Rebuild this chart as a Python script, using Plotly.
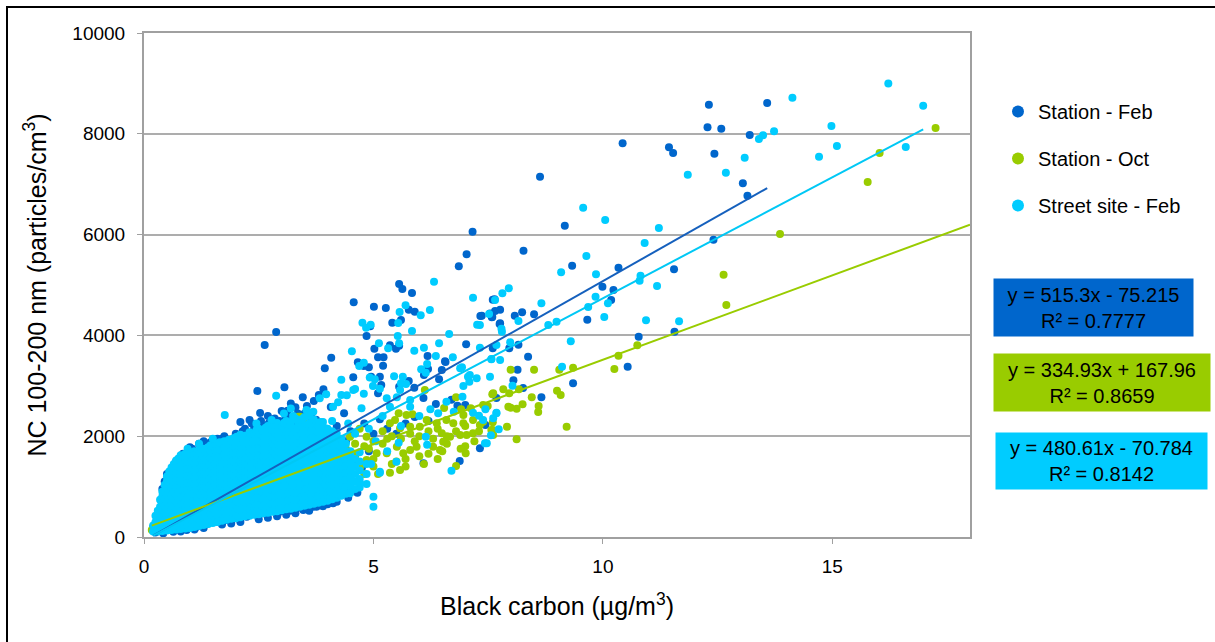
import plotly.graph_objects as go

# ---------------- data ----------------
# Station - Feb (dark blue): scattered points (x = BC ug/m3, y = NC particles/cm3)
station_feb_outliers = [
    (12.31, 8577), (13.58, 8611), (12.28, 8128), (12.58, 8100), (10.43, 7811), (11.44, 7731),
    (11.53, 7619), (13.2, 7976), (12.43, 7605), (8.63, 7149), (13.05, 7017), (13.15, 6772),
    (9.17, 6177), (9.33, 5383), (10.34, 5343), (9.99, 4966), (10.23, 4900), (11.55, 5311),
    (12.41, 5898), (10.18, 4702), (9.66, 4311), (10.78, 3974), (11.56, 4073), (10.54, 3379),
    (9.35, 3049), (8.66, 2772), (8.27, 5680), (7.64, 4716), (7.65, 4484), (7.76, 4510),
    (7.36, 4391), (7.59, 4365), (7.75, 4226), (8.08, 4391), (8.24, 4458), (8.5, 4418),
    (7.6, 3744), (7.96, 3744), (8.16, 3815), (8.37, 3578), (8.14, 3319), (8.05, 3109),
    (8.26, 2956), (7.68, 2758), (7.44, 2222), (7.32, 1760), (7.16, 6057), (7.03, 5609),
    (6.86, 5371), (5.56, 5020), (5.63, 4920), (5.84, 4841), (4.57, 4656), (5.01, 4569),
    (5.27, 4543), (5.77, 4510), (5.9, 4470), (5.41, 4252), (5.6, 4305), (4.93, 4180),
    (4.85, 3987), (5.02, 3736), (5.36, 3803), (5.49, 3736), (5.56, 3796), (5.1, 3565),
    (5.22, 3565), (5.21, 3399), (4.08, 3558), (3.94, 3347), (4.66, 3466), (4.79, 3393),
    (4.9, 3366), (4.95, 3180), (4.56, 3168), (5.14, 3180), (5.17, 3016), (5.1, 2851),
    (5.56, 2982), (5.77, 3095), (5.89, 2962), (6.18, 3591), (6.19, 3333), (6.56, 3486),
    (6.49, 3313), (6.43, 3129), (7.02, 3823), (7.33, 4385), (7.6, 4708), (7.58, 4359),
    (3.46, 2772), (3.81, 2817), (3.91, 2930), (4.07, 2579), (3.65, 2367), (3.75, 2327),
    (6.09, 2758), (6.36, 2639), (6.7, 2724), (6.83, 2605), (7.0, 2619), (6.88, 1508),
    (6.09, 1462), (4.36, 2454), (5.14, 2335), (2.47, 2897), (3.06, 2970), (2.1, 2282),
    (2.3, 2321), (2.53, 2460), (3.3, 2573), (3.13, 2506), (3.09, 2375), (2.72, 2256),
    (2.68, 2182), (2.88, 4067), (2.63, 3809), (7.54, 4437), (7.76, 4240), (6.57, 3472),
    (6.1, 3214),
]
# Station - Feb: dense cluster (edges visible around the street-site cloud)
station_feb_cluster = [
    (0.2, 200), (0.25, 90), (0.28, 272), (0.3, 150), (0.35, 403), (0.42, 73), (0.52, 601),
    (0.55, 800), (0.57, 933), (0.64, 1131), (0.64, 105), (0.75, 1329), (0.86, 1462),
    (0.92, 1554), (0.93, 139), (1.0, 1780), (1.0, 900), (1.11, 1673), (1.15, 204),
    (1.2, 1850), (1.37, 258), (1.4, 1726), (1.5, 1200), (1.57, 1839), (1.58, 304),
    (1.7, 1950), (1.8, 337), (1.86, 1871), (1.91, 1693), (2.0, 2050), (2.0, 1400),
    (2.02, 370), (2.2, 1900), (2.24, 403), (2.26, 1732), (2.4, 2150), (2.46, 436),
    (2.5, 1600), (2.53, 1958), (2.6, 470), (2.75, 2080), (2.89, 2058), (2.96, 502),
    (3.0, 1800), (3.03, 2123), (3.1, 2387), (3.18, 522), (3.3, 2200), (3.33, 569),
    (3.47, 536), (3.5, 2450), (3.5, 1900), (3.54, 569), (3.69, 2321), (3.69, 601),
    (3.76, 601), (3.8, 1300), (4.0, 2100), (4.0, 1500), (4.09, 767), (4.12, 669),
    (4.2, 2200), (4.27, 867), (4.3, 1700), (4.34, 966), (4.4, 1900), (4.5, 2100),
    (4.5, 1200), (4.6, 1450), (4.75, 1380), (4.8, 2250), (4.9, 1700), (5.0, 2050),
    (5.3, 2150), (5.5, 2050), (5.7, 2250), (5.9, 2380), (6.2, 2300), (1.3, 1900),
    (1.75, 2000), (2.15, 2100), (2.6, 2200), (2.95, 2300), (3.4, 2400), (2.35, 1980),
    (2.2, 2150), (2.35, 2250), (2.55, 2300), (2.7, 2400), (2.85, 2350), (3.0, 2500),
    (3.2, 2650), (3.35, 2450), (3.55, 2600), (3.7, 2700), (1.6, 1950), (1.45, 1880),
    (1.25, 1800), (1.05, 1750), (0.85, 1650), (0.7, 1500), (0.5, 1250), (0.45, 1100),
    (0.4, 950), (1.3, 180), (1.7, 250), (2.1, 300), (2.5, 350), (2.9, 410), (3.3, 470),
    (3.6, 520), (3.9, 610), (4.2, 700), (4.45, 780), (4.65, 880), (1.9, 270), (2.7, 380),
    (3.1, 440), (4.0, 650), (1.1, 150), (0.8, 110),
]

# Station - Oct (green)
station_oct_points = [
    (17.25, 8115), (16.03, 7619), (15.77, 7043), (13.86, 6011), (12.63, 5204), (12.69, 4603),
    (10.75, 3803), (10.34, 3597), (10.25, 3333), (9.35, 3359), (9.05, 3319), (8.5, 3319),
    (7.99, 3319), (7.61, 2851), (7.83, 2930), (7.96, 2851), (8.17, 2930), (7.49, 2599),
    (7.94, 2585), (7.99, 2566), (8.12, 2546), (8.25, 2633), (8.45, 2772), (8.6, 2599),
    (8.59, 2480), (9.0, 2903), (9.08, 2817), (7.6, 2276), (7.6, 2123), (7.91, 2189),
    (8.12, 1938), (9.21, 2189), (7.32, 2222), (7.59, 2831), (7.39, 2619), (7.12, 2553),
    (6.91, 2533), (6.8, 2772), (6.96, 2420), (6.12, 2917), (6.54, 2559), (5.55, 2454),
    (5.72, 2420), (5.85, 2434), (5.36, 2256), (5.47, 2321), (5.58, 2157), (5.8, 2189),
    (6.01, 2189), (6.16, 2321), (6.38, 2256), (6.59, 2321), (6.74, 2256), (6.96, 2256),
    (7.17, 2321), (7.39, 2288), (7.57, 2123), (7.61, 2024), (6.49, 2058), (6.67, 1990),
    (6.89, 2024), (7.03, 2024), (7.17, 2058), (6.3, 1792), (6.45, 1726), (6.52, 1891),
    (5.94, 1792), (5.8, 1726), (5.65, 1660), (5.51, 1792), (5.29, 1660), (5.36, 1276),
    (5.58, 1329), (7.01, 1660), (6.8, 1409), (5.07, 1660), (4.85, 1528), (4.71, 1395),
    (4.49, 1494), (4.27, 1528), (4.12, 1660), (3.98, 1792), (3.83, 1924), (3.62, 1792),
    (4.85, 1990), (4.49, 1990), (4.12, 2058), (3.83, 2189), (3.54, 2256), (3.4, 2387),
    (0.17, 139), (0.2, 160), (0.53, 569), (0.89, 669), (1.98, 1196), (3.36, 2387),
    (3.22, 2090), (3.47, 1990), (0.3, 250), (0.4, 450), (0.5, 300), (0.6, 600), (0.7, 450),
    (0.8, 700), (1.0, 500), (1.0, 850), (1.2, 600), (1.4, 750), (1.5, 1000), (1.6, 800),
    (1.8, 900), (2.0, 1000), (2.2, 950), (2.4, 1100), (2.5, 1500), (2.6, 1200), (2.8, 1300),
    (3.0, 1250), (3.0, 1700), (3.2, 1400), (3.4, 1500), (3.5, 1800), (3.6, 1450), (3.8, 1600),
    (4.0, 1400), (4.0, 1200), (4.2, 1700), (4.4, 1750), (4.5, 1300), (4.6, 1650), (4.8, 1800),
    (5.0, 1900), (5.0, 1400), (5.2, 1850), (5.4, 2000), (5.5, 1500), (5.6, 1950), (5.8, 2050),
    (6.0, 2000), (6.0, 1600), (6.2, 2100), (6.4, 2150), (6.5, 1700), (6.6, 2000), (6.8, 2100),
    (7.0, 2200), (7.0, 1800), (4.6, 1850), (4.7, 2150), (5.2, 2100), (5.0, 1550), (5.4, 1450),
    (5.7, 1550), (6.1, 1450), (6.3, 1950), (4.3, 1900), (4.0, 1950), (3.7, 2050), (4.9, 1750),
    (5.9, 1900), (6.2, 1650), (6.6, 1850), (5.3, 1950), (4.6, 1600), (5.1, 1250), (5.7, 1400),
    (6.4, 1550), (7.2, 1900), (7.3, 2100), (4.4, 1400), (4.2, 1250), (4.8, 1250), (6.9, 1750),
]

# Street site - Feb (light blue): scattered points
street_feb_outliers = [
    (16.22, 9000), (16.98, 8558), (14.13, 8716), (14.98, 8154), (15.1, 7757), (14.71, 7546),
    (16.6, 7738), (13.73, 8049), (13.49, 7970), (13.4, 7897), (13.09, 7526), (12.68, 7228),
    (11.85, 7188), (9.57, 6533), (10.05, 6289), (11.22, 6130), (10.91, 5833), (9.64, 5575),
    (9.09, 5252), (9.85, 5212), (10.82, 5185), (10.8, 5086), (11.18, 4980), (8.66, 4636),
    (8.81, 4206), (8.99, 4272), (9.68, 4563), (9.84, 4768), (10.03, 4365), (10.11, 4636),
    (10.94, 4299), (11.66, 4279), (9.3, 3883), (9.11, 3379), (7.95, 4934), (7.81, 4835),
    (7.52, 4424), (8.16, 4285), (7.79, 4133), (7.8, 4073), (7.32, 4206), (7.98, 3863),
    (7.57, 3525), (7.32, 3756), (8.03, 3002), (7.68, 2466), (7.73, 2137), (7.56, 2018),
    (7.47, 1859), (7.39, 2321), (6.32, 5066), (7.17, 4748), (7.65, 4702), (5.7, 4597),
    (5.57, 4464), (6.03, 4398), (6.23, 4504), (4.76, 4252), (4.84, 4153), (4.94, 4212),
    (5.54, 4246), (5.53, 3988), (5.84, 4087), (6.65, 4028), (6.43, 3843), (7.26, 4212),
    (4.53, 3684), (5.12, 3843), (5.32, 3744), (5.56, 3843), (5.89, 3697), (6.1, 3756),
    (6.36, 3591), (6.17, 3432), (6.04, 3327), (6.14, 3260), (4.79, 3458), (4.69, 3393),
    (4.3, 3121), (5.03, 3129), (5.45, 3188), (5.64, 3180), (5.6, 3049), (5.71, 3035),
    (5.58, 2917), (6.73, 3565), (6.93, 3367), (7.1, 3214), (7.09, 3082), (6.96, 2996),
    (7.57, 3532), (7.68, 3809), (4.6, 2936), (4.79, 2843), (4.99, 2996), (5.14, 2942),
    (4.3, 2817), (4.42, 2811), (4.23, 2672), (4.12, 2585), (4.74, 2553), (5.29, 2752),
    (5.51, 2772), (5.36, 2585), (5.8, 2718), (5.8, 2585), (6.24, 2533), (6.41, 2454),
    (6.59, 2684), (6.75, 2486), (7.17, 2466), (7.3, 2407), (7.44, 2533), (7.61, 2355),
    (7.68, 2454), (6.17, 1831), (6.14, 1990), (5.55, 1871), (5.5, 1494), (5.14, 1276),
    (6.7, 1316), (7.43, 1859), (3.83, 2752), (3.97, 2831), (3.54, 2520), (3.69, 2486),
    (3.4, 2321), (4.56, 2917), (4.92, 3164), (1.76, 2420), (2.88, 2804), (2.02, 1990),
    (1.98, 1858), (2.16, 1891), (2.38, 1891), (2.78, 2321), (2.93, 2058), (7.76, 3512),
    (7.54, 3180), (7.25, 3148), (7.06, 3180), (6.89, 3347), (6.94, 2784), (5.0, 800),
    (5.0, 601), (4.71, 1065), (5.14, 1296), (4.49, 867), (3.05, 2450), (3.2, 2550),
    (3.25, 2400), (4.1, 2300), (4.45, 2250), (4.9, 2150), (5.2, 2400), (4.6, 2050),
    (5.05, 1900), (5.3, 1700), (4.95, 1450), (5.6, 2200), (6.0, 2400), (1.2, 1850),
    (1.5, 1950), (2.45, 2250), (3.6, 2400), (0.95, 1750),
]
# Street site - Feb: dense cloud, read column by column (x, list of y)
street_feb_cluster = [
    (0.20, [110, 230]),
    (0.25, [170, 300, 420]),
    (0.30, [110, 240, 380, 520]),
    (0.35, [180, 320, 460, 600, 740]),
    (0.40, [120, 250, 390, 530, 670, 810, 900]),
    (0.45, [190, 330, 470, 610, 750, 890, 1030]),
    (0.50, [130, 270, 410, 550, 690, 830, 970, 1110, 1200]),
    (0.55, [200, 340, 480, 620, 760, 900, 1040, 1180, 1300]),
    (0.60, [140, 280, 420, 560, 700, 840, 980, 1120, 1260, 1380]),
    (0.65, [210, 350, 490, 630, 770, 910, 1050, 1190, 1330, 1450]),
    (0.70, [150, 290, 430, 570, 710, 850, 990, 1130, 1270, 1410, 1520]),
    (0.75, [220, 360, 500, 640, 780, 920, 1060, 1200, 1340, 1480, 1560]),
    (0.80, [160, 300, 440, 580, 720, 860, 1000, 1140, 1280, 1420, 1560, 1620]),
    (0.85, [230, 370, 510, 650, 790, 930, 1070, 1210, 1350, 1490, 1600]),
    (0.90, [170, 310, 450, 590, 730, 870, 1010, 1150, 1290, 1430, 1570, 1650]),
    (0.95, [240, 380, 520, 660, 800, 940, 1080, 1220, 1360, 1500, 1620]),
    (1.00, [180, 320, 460, 600, 740, 880, 1020, 1160, 1300, 1440, 1580, 1680]),
    (1.05, [250, 390, 530, 670, 810, 950, 1090, 1230, 1370, 1510, 1640]),
    (1.10, [200, 340, 480, 620, 760, 900, 1040, 1180, 1320, 1460, 1600, 1700]),
    (1.15, [260, 400, 540, 680, 820, 960, 1100, 1240, 1380, 1520, 1660]),
    (1.20, [220, 360, 500, 640, 780, 920, 1060, 1200, 1340, 1480, 1620, 1720]),
    (1.25, [270, 410, 550, 690, 830, 970, 1110, 1250, 1390, 1530, 1670]),
    (1.30, [240, 380, 520, 660, 800, 940, 1080, 1220, 1360, 1500, 1640, 1750]),
    (1.35, [290, 430, 570, 710, 850, 990, 1130, 1270, 1410, 1550, 1690]),
    (1.40, [260, 400, 540, 680, 820, 960, 1100, 1240, 1380, 1520, 1660, 1780]),
    (1.45, [310, 450, 590, 730, 870, 1010, 1150, 1290, 1430, 1570, 1710, 1820]),
    (1.50, [280, 420, 560, 700, 840, 980, 1120, 1260, 1400, 1540, 1680, 1790]),
    (1.55, [330, 470, 610, 750, 890, 1030, 1170, 1310, 1450, 1590, 1730, 1850]),
    (1.60, [300, 440, 580, 720, 860, 1000, 1140, 1280, 1420, 1560, 1700, 1810]),
    (1.65, [350, 490, 630, 770, 910, 1050, 1190, 1330, 1470, 1610, 1750, 1880]),
    (1.70, [320, 460, 600, 740, 880, 1020, 1160, 1300, 1440, 1580, 1720, 1860]),
    (1.75, [370, 510, 650, 790, 930, 1070, 1210, 1350, 1490, 1630, 1770, 1900]),
    (1.80, [340, 480, 620, 760, 900, 1040, 1180, 1320, 1460, 1600, 1740, 1870]),
    (1.85, [390, 530, 670, 810, 950, 1090, 1230, 1370, 1510, 1650, 1790, 1930]),
    (1.90, [360, 500, 640, 780, 920, 1060, 1200, 1340, 1480, 1620, 1760, 1900]),
    (1.95, [400, 540, 680, 820, 960, 1100, 1240, 1380, 1520, 1660, 1800, 1960]),
    (2.00, [370, 510, 650, 790, 930, 1070, 1210, 1350, 1490, 1630, 1770, 1910]),
    (2.05, [420, 560, 700, 840, 980, 1120, 1260, 1400, 1540, 1680, 1820, 1990]),
    (2.10, [390, 530, 670, 810, 950, 1090, 1230, 1370, 1510, 1650, 1790, 1930, 2030]),
    (2.15, [440, 580, 720, 860, 1000, 1140, 1280, 1420, 1560, 1700, 1840, 1980]),
    (2.20, [410, 550, 690, 830, 970, 1110, 1250, 1390, 1530, 1670, 1810, 1950, 2010]),
    (2.25, [460, 600, 740, 880, 1020, 1160, 1300, 1440, 1580, 1720, 1860, 2000]),
    (2.30, [420, 560, 700, 840, 980, 1120, 1260, 1400, 1540, 1680, 1820, 1960, 2080]),
    (2.35, [470, 610, 750, 890, 1030, 1170, 1310, 1450, 1590, 1730, 1870, 2010]),
    (2.40, [440, 580, 720, 860, 1000, 1140, 1280, 1420, 1560, 1700, 1840, 1980, 2050]),
    (2.45, [490, 630, 770, 910, 1050, 1190, 1330, 1470, 1610, 1750, 1890, 2030, 2120]),
    (2.50, [450, 590, 730, 870, 1010, 1150, 1290, 1430, 1570, 1710, 1850, 1990, 2150]),
    (2.55, [500, 640, 780, 920, 1060, 1200, 1340, 1480, 1620, 1760, 1900, 2040]),
    (2.60, [470, 610, 750, 890, 1030, 1170, 1310, 1450, 1590, 1730, 1870, 2010, 2100]),
    (2.65, [520, 660, 800, 940, 1080, 1220, 1360, 1500, 1640, 1780, 1920, 2060, 2170]),
    (2.70, [480, 620, 760, 900, 1040, 1180, 1320, 1460, 1600, 1740, 1880, 2020, 2200]),
    (2.75, [530, 670, 810, 950, 1090, 1230, 1370, 1510, 1650, 1790, 1930, 2070]),
    (2.80, [500, 640, 780, 920, 1060, 1200, 1340, 1480, 1620, 1760, 1900, 2040, 2140]),
    (2.85, [550, 690, 830, 970, 1110, 1250, 1390, 1530, 1670, 1810, 1950, 2090, 2230]),
    (2.90, [510, 650, 790, 930, 1070, 1210, 1350, 1490, 1630, 1770, 1910, 2050, 2260]),
    (2.95, [560, 700, 840, 980, 1120, 1260, 1400, 1540, 1680, 1820, 1960, 2100, 2190]),
    (3.00, [530, 670, 810, 950, 1090, 1230, 1370, 1510, 1650, 1790, 1930, 2070, 2190]),
    (3.05, [580, 720, 860, 1000, 1140, 1280, 1420, 1560, 1700, 1840, 1980, 2120, 2260]),
    (3.10, [550, 690, 830, 970, 1110, 1250, 1390, 1530, 1670, 1810, 1950, 2090, 2300]),
    (3.15, [600, 740, 880, 1020, 1160, 1300, 1440, 1580, 1720, 1860, 2000, 2140, 2240]),
    (3.20, [560, 700, 840, 980, 1120, 1260, 1400, 1540, 1680, 1820, 1960, 2100, 2240]),
    (3.25, [620, 760, 900, 1040, 1180, 1320, 1460, 1600, 1740, 1880, 2020, 2160, 2330]),
    (3.30, [580, 720, 860, 1000, 1140, 1280, 1420, 1560, 1700, 1840, 1980, 2120, 2350]),
    (3.35, [640, 780, 920, 1060, 1200, 1340, 1480, 1620, 1760, 1900, 2040, 2180, 2300]),
    (3.40, [600, 740, 880, 1020, 1160, 1300, 1440, 1580, 1720, 1860, 2000, 2140, 2270]),
    (3.45, [660, 800, 940, 1080, 1220, 1360, 1500, 1640, 1780, 1920, 2060, 2200, 2340]),
    (3.50, [620, 760, 900, 1040, 1180, 1320, 1460, 1600, 1740, 1880, 2020, 2160, 2380]),
    (3.55, [680, 820, 960, 1100, 1240, 1380, 1520, 1660, 1800, 1940, 2080, 2220]),
    (3.60, [640, 780, 920, 1060, 1200, 1340, 1480, 1620, 1760, 1900, 2040, 2180, 2250]),
    (3.65, [700, 840, 980, 1120, 1260, 1400, 1540, 1680, 1820, 1960, 2100, 2240]),
    (3.70, [660, 800, 940, 1080, 1220, 1360, 1500, 1640, 1780, 1920, 2060, 2200, 2330]),
    (3.75, [720, 860, 1000, 1140, 1280, 1420, 1560, 1700, 1840, 1980, 2120, 2260]),
    (3.80, [680, 820, 960, 1100, 1240, 1380, 1520, 1660, 1800, 1940, 2080, 2200]),
    (3.85, [740, 880, 1020, 1160, 1300, 1440, 1580, 1720, 1860, 2000, 2140, 2280]),
    (3.90, [700, 840, 980, 1120, 1260, 1400, 1540, 1680, 1820, 1960, 2100, 2280]),
    (3.95, [760, 900, 1040, 1180, 1320, 1460, 1600, 1740, 1880, 2020, 2160]),
    (4.00, [720, 860, 1000, 1140, 1280, 1420, 1560, 1700, 1840, 1980, 2150]),
    (4.05, [790, 930, 1070, 1210, 1350, 1490, 1630, 1770, 1910, 2050]),
    (4.10, [750, 890, 1030, 1170, 1310, 1450, 1590, 1730, 1870, 2010, 2100]),
    (4.15, [820, 960, 1100, 1240, 1380, 1520, 1660, 1800, 1940]),
    (4.20, [780, 920, 1060, 1200, 1340, 1480, 1620, 1760, 1900, 2050]),
    (4.25, [850, 990, 1130, 1270, 1410, 1550, 1690, 1830]),
    (4.30, [820, 960, 1100, 1240, 1380, 1520, 1660, 1800, 1950]),
    (4.35, [890, 1030, 1170, 1310, 1450, 1590, 1730]),
    (4.40, [860, 1000, 1140, 1280, 1420, 1560, 1700, 1850]),
    (4.50, [900, 1040, 1180, 1320, 1460, 1600, 1700]),
    (4.60, [950, 1100, 1250, 1400, 1550]),
    (4.70, [980, 1150, 1320, 1500, 1680]),
    (4.85, [1050, 1250, 1450]),
]

# Linear trend lines (Excel): slope, intercept, R²
series_names = ["Station - Feb", "Station - Oct", "Street site - Feb"]
trend_slopes = [515.3, 334.93, 480.61]
trend_intercepts = [-75.215, 167.96, -70.784]
trend_r2 = ["0.7777", "0.8659", "0.8142"]
trend_labels = ["y = 515.3x - 75.215", "y = 334.93x + 167.96", "y = 480.61x - 70.784"]

x_ticks = [0, 5, 10, 15]
y_ticks = [0, 2000, 4000, 6000, 8000, 10000]
X_MAX = 18
Y_MAX = 10000

# ---------------- styling ----------------
marker_colors = ["#0066CC", "#99CC00", "#00CCFF"]
line_colors = ["#1560BD", "#99CC00", "#00C8F5"]
FONT = "Liberation Sans, Arial, sans-serif"

W, H = 1215, 642
L, R, T, B = 144, 1215 - 970, 33, 642 - 537
PW, PH = W - L - R, H - T - B


def px_x(p):
    return (p - L) / PW


def px_y(p):
    return (H - B - p) / PH


# flatten data
feb_pts = station_feb_cluster + station_feb_outliers
oct_pts = station_oct_points
street_pts = [(x, y) for x, ys in street_feb_cluster for y in ys] + street_feb_outliers
all_series = [feb_pts, oct_pts, street_pts]

fig = go.Figure()

for i, pts in enumerate(all_series):
    fig.add_trace(go.Scatter(
        x=[p[0] for p in pts], y=[p[1] for p in pts],
        mode="markers", name=series_names[i],
        legendgroup=series_names[i],
        marker=dict(color=marker_colors[i], size=8, line=dict(width=0)),
        hoverinfo="x+y",
    ))

# trend lines drawn on top of all markers
for i, pts in enumerate(all_series):
    xs = [p[0] for p in pts]
    x0 = min(xs)
    x1 = X_MAX if i == 1 else max(xs)   # Oct trend line forecast to axis end
    lx = [x0, x1]
    ly = [trend_slopes[i] * v + trend_intercepts[i] for v in lx]
    fig.add_trace(go.Scatter(
        x=lx, y=ly, mode="lines", showlegend=False, hoverinfo="skip",
        line=dict(color=line_colors[i], width=2),
    ))

# equation boxes
box_left_px = [993, 993, 995]
box_top_px = [278, 353, 432]
box_w = [199, 216, 211]
box_h = [57, 57, 56]
for i in range(3):
    fig.add_annotation(
        xref="paper", yref="paper", x=px_x(box_left_px[i]), y=px_y(box_top_px[i]),
        xanchor="left", yanchor="top", showarrow=False,
        text=f"{trend_labels[i]}<br>R² = {trend_r2[i]}",
        font=dict(family=FONT, size=20, color="#000000"),
        bgcolor=marker_colors[i], width=box_w[i], height=box_h[i],
        borderpad=0, align="center", valign="middle",
    )

# outer black frame (top and left edges visible)
fig.add_shape(type="rect", xref="paper", yref="paper",
              x0=px_x(7), x1=px_x(1240), y0=px_y(7), y1=px_y(670),
              line=dict(color="#000000", width=2), layer="above")

axis_common = dict(
    showline=True, linecolor="#A0A0A0", linewidth=2, mirror=True,
    ticks="outside", ticklen=5, tickcolor="#A0A0A0", tickwidth=1,
    tickfont=dict(family=FONT, size=19, color="#000000"),
    zeroline=False,
)

fig.update_layout(
    width=W, height=H,
    margin=dict(l=L, r=R, t=T, b=B, autoexpand=False),
    paper_bgcolor="white", plot_bgcolor="white",
    font=dict(family=FONT, color="#000000"),
    xaxis=dict(
        range=[0, X_MAX], tickvals=x_ticks, showgrid=False,
        title=dict(text="Black carbon (µg/m<sup>3</sup>)",
                   font=dict(family=FONT, size=25, color="#000000"), standoff=22),
        ticklabelstandoff=6,
        **axis_common,
    ),
    yaxis=dict(
        range=[0, Y_MAX], tickvals=y_ticks, tickformat="d", showgrid=True,
        gridcolor="#ADADAD", gridwidth=1.5,
        title=dict(text="NC 100-200 nm (particles/cm<sup>3</sup>)",
                   font=dict(family=FONT, size=25, color="#000000"), standoff=19),
        ticklabelstandoff=8,
        **axis_common,
    ),
    showlegend=True,
    legend=dict(
        x=px_x(998), y=px_y(92), xanchor="left", yanchor="top",
        font=dict(family=FONT, size=20, color="#000000"),
        bgcolor="rgba(0,0,0,0)", borderwidth=0,
        tracegroupgap=18, itemsizing="constant",
    ),
)

fig.write_html("out.html")
